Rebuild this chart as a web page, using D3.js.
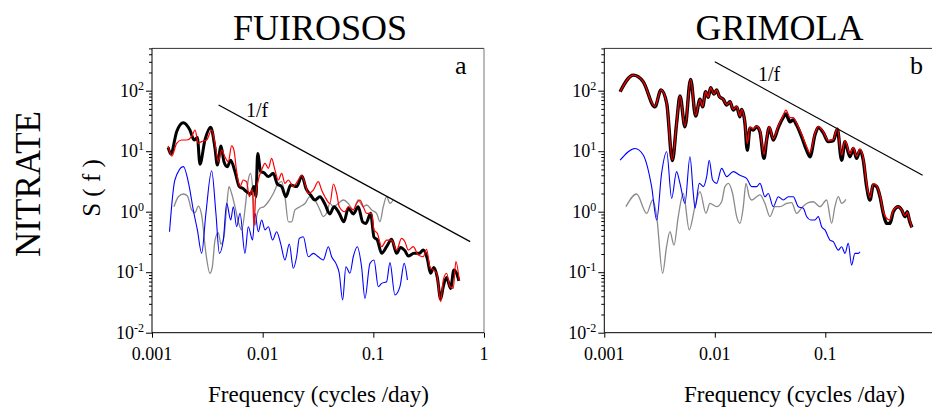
<!DOCTYPE html>
<html><head><meta charset="utf-8">
<script src="https://cdn.jsdelivr.net/npm/d3@7"></script>
<style>body{margin:0;background:#fff}svg{display:block}text{font-family:"Liberation Serif","Times New Roman",serif;fill:#000}</style>
</head><body><svg id="c" width="932" height="407"></svg>
<script>
const panelTitles = ["FUIROSOS", "GRIMOLA"];
const panelLetters = ["a", "b"];
const rowLabel = "NITRATE";
const yAxisLabel = "S ( f )";
const xAxisLabel = "Frequency (cycles /day)";
const slopeLabel = "1/f";
const xTickValues = [0.001, 0.01, 0.1, 1];
const xTickLabels = ["0.001", "0.01", "0.1", "1"];
const yTickValues = [0.01, 0.1, 1, 10, 100];
const yTickExponents = ["-2", "-1", "0", "1", "2"];
const xDomain = [0.001, 1];
const yDomain = [0.01, 500];

// [frequency, S(f)]
const fuirososBlack = [[0.0014,11.6],[0.00148,9.0],[0.00167,21],[0.00192,29.6],[0.0022,22.4],[0.0024,15.3],[0.00257,16.9],[0.00271,6.1],[0.00301,15.3],[0.00339,24.8],[0.00371,11.1],[0.00389,5.9],[0.0042,12.2],[0.00447,6.7],[0.00479,5.55],[0.00514,7.1],[0.00562,4.6],[0.00615,2.6],[0.00659,2.43],[0.00716,2.14],[0.00778,1.96],[0.00834,2.6],[0.0087,1.77],[0.00901,9.2],[0.00959,4.6],[0.01028,4.4],[0.01125,3.8],[0.01248,4.3],[0.01356,2.87],[0.01484,2.6],[0.01623,1.77],[0.01789,2.76],[0.02027,2.6],[0.02264,3.9],[0.02461,2.43],[0.02711,1.89],[0.02966,1.56],[0.0329,1.77],[0.0365,1.34],[0.0405,0.92],[0.0441,1.21],[0.0492,0.94],[0.0542,0.68],[0.0594,1.14],[0.0659,0.92],[0.0731,1.21],[0.08,0.68],[0.0858,0.64],[0.0945,0.94],[0.1014,0.38],[0.1086,0.34],[0.1189,0.205],[0.1318,0.264],[0.1462,0.35],[0.1623,0.205],[0.1762,0.257],[0.1928,0.227],[0.207,0.185],[0.2328,0.205],[0.26,0.205],[0.2825,0.232],[0.3069,0.169],[0.3289,0.096],[0.3524,0.12],[0.3784,0.082],[0.4055,0.036],[0.4285,0.058],[0.4592,0.082],[0.4989,0.054],[0.5346,0.109],[0.5649,0.096],[0.5929,0.072]];
const fuirososRed = [[0.0014,12.2],[0.00151,8.3],[0.00167,13.5],[0.00185,15.3],[0.00206,15.3],[0.00228,17.4],[0.00245,22.4],[0.00262,13.5],[0.00281,14.4],[0.00312,15.3],[0.00346,22.4],[0.00371,13.5],[0.00397,6.7],[0.00426,10.4],[0.00456,8.1],[0.00489,6.7],[0.00524,12.2],[0.0055,10.4],[0.00582,4.6],[0.00624,2.6],[0.00668,3.34],[0.00716,3.13],[0.00757,1.77],[0.00806,2.34],[0.00834,0.58],[0.00864,1.77],[0.00913,3.34],[0.00979,4.9],[0.0105,6.3],[0.01125,5.2],[0.01205,7.6],[0.01291,4.9],[0.01384,3.34],[0.01484,4.3],[0.0159,2.94],[0.01706,3.34],[0.01891,2.6],[0.02099,3.34],[0.02249,4.0],[0.02411,2.94],[0.02584,2.0],[0.02866,2.28],[0.03182,3.13],[0.0341,2.28],[0.0365,1.77],[0.0405,1.37],[0.0436,2.87],[0.0466,2.0],[0.0492,1.21],[0.0553,1.0],[0.0594,1.21],[0.0659,1.07],[0.0706,1.37],[0.0757,1.56],[0.0811,1.21],[0.087,0.94],[0.0964,0.94],[0.1014,0.5],[0.1086,0.44],[0.1189,0.264],[0.1318,0.34],[0.1462,0.34],[0.1623,0.232],[0.1799,0.362],[0.1928,0.319],[0.207,0.232],[0.2295,0.264],[0.2546,0.192],[0.2825,0.18],[0.3028,0.238],[0.3245,0.123],[0.3478,0.109],[0.3727,0.096],[0.4055,0.0325],[0.4285,0.074],[0.4592,0.096],[0.492,0.058],[0.5272,0.054],[0.5572,0.149],[0.5971,0.074]];
const fuirososGray = [[0.00158,1.21],[0.00173,1.77],[0.00192,1.96],[0.00209,1.82],[0.00228,1.07],[0.00245,0.96],[0.00262,1.24],[0.00281,0.88],[0.00307,0.205],[0.00334,0.096],[0.00351,0.123],[0.00371,0.34],[0.00397,0.45],[0.0042,0.29],[0.00447,0.386],[0.00473,1.21],[0.00496,2.6],[0.00524,2.0],[0.00562,1.21],[0.00603,0.68],[0.00646,0.5],[0.00702,1.37],[0.00741,3.34],[0.00778,4.3],[0.00823,1.77],[0.00852,0.6],[0.00894,0.94],[0.00945,1.14],[0.01028,1.21],[0.01125,1.46],[0.01248,2.0],[0.01384,2.94],[0.01484,3.13],[0.0159,1.77],[0.01706,0.68],[0.01827,0.68],[0.01958,1.07],[0.02173,1.21],[0.02411,1.37],[0.02675,1.77],[0.02966,1.56],[0.0329,1.07],[0.0353,0.83],[0.0378,0.94],[0.0405,1.37],[0.0435,1.21],[0.0482,1.37],[0.0535,1.56],[0.0594,1.37],[0.0659,1.07],[0.0731,1.56],[0.0811,1.21],[0.087,1.29],[0.0964,1.07],[0.107,0.94],[0.1148,0.68],[0.123,1.21],[0.1318,1.77],[0.1413,1.37],[0.1514,1.56]];
const fuirososBlue = [[0.00144,0.467],[0.00161,3.34],[0.00192,5.55],[0.00217,2.6],[0.00236,1.07],[0.00257,0.5],[0.00281,0.205],[0.00307,0.94],[0.00346,4.76],[0.00378,0.94],[0.00406,0.205],[0.00441,0.34],[0.00473,1.37],[0.00514,0.73],[0.00543,1.21],[0.00582,0.565],[0.00624,0.94],[0.00692,0.205],[0.00741,0.565],[0.00811,0.34],[0.00852,0.94],[0.00913,0.467],[0.00979,0.73],[0.0105,0.5],[0.01125,0.565],[0.0123,0.34],[0.01337,0.467],[0.01452,0.3],[0.0159,0.159],[0.01741,0.292],[0.01891,0.116],[0.02027,0.18],[0.02143,0.362],[0.02329,0.386],[0.02584,0.18],[0.02866,0.205],[0.03182,0.18],[0.0353,0.159],[0.0392,0.264],[0.042,0.18],[0.0459,0.14],[0.0492,0.096],[0.0528,0.0347],[0.0565,0.123],[0.0615,0.096],[0.0659,0.18],[0.0716,0.264],[0.0783,0.123],[0.084,0.0369],[0.0932,0.14],[0.1014,0.159],[0.1109,0.0576],[0.1189,0.0654],[0.1318,0.0697],[0.1413,0.144],[0.1567,0.042],[0.1739,0.0576],[0.1901,0.14],[0.2032,0.0743]];
const fuirososSlope = [[0.004, 58], [0.75, 0.32]];

const grimolaBlack = [[0.00139,96],[0.00183,181],[0.00225,141],[0.00287,54],[0.00326,103],[0.00367,62],[0.00413,7.0],[0.00451,28.8],[0.00484,82],[0.00537,25.4],[0.00604,154],[0.00671,38],[0.00734,72],[0.00776,54],[0.00826,96],[0.00873,78],[0.00916,112],[0.00983,88],[0.01039,103],[0.01099,80],[0.01194,72],[0.0128,58],[0.01371,66],[0.01469,48],[0.01577,54],[0.0169,37],[0.01749,49],[0.01875,28.8],[0.01968,10.4],[0.0208,23.9],[0.0223,22.4],[0.02392,25.4],[0.02563,21],[0.02786,7.6],[0.02944,15.3],[0.03112,24.8],[0.03381,15.3],[0.03758,24.8],[0.04112,34.9],[0.04406,41.1],[0.04786,30.7],[0.05129,32.7],[0.05502,27.1],[0.06106,17.4],[0.06776,10.4],[0.07261,8.1],[0.08054,18.5],[0.08643,24.8],[0.09594,20.2],[0.1064,14.4],[0.1181,14.9],[0.1284,23],[0.1406,7.1],[0.1507,14.4],[0.1671,8.1],[0.1791,11.1],[0.1921,7.6],[0.2059,10.4],[0.2208,7.1],[0.2367,2.6],[0.2536,1.56],[0.2717,2.76],[0.2917,2.6],[0.3126,1.77],[0.335,0.94],[0.3589,0.64],[0.3846,0.64],[0.4121,1.0],[0.4581,1.21],[0.4909,1.07],[0.526,0.83],[0.5521,1.0],[0.5754,0.73],[0.6081,0.55]];
const grimolaRed = [[0.00139,96],[0.00183,181],[0.00225,141],[0.00287,55],[0.00326,103],[0.00367,62],[0.00413,7.2],[0.00451,29],[0.00484,82],[0.00537,26],[0.00604,154],[0.00671,39],[0.00734,72],[0.00776,55],[0.00826,96],[0.00873,78],[0.00916,112],[0.00983,88],[0.01039,103],[0.01099,80],[0.01194,72],[0.0128,59],[0.01371,66],[0.01469,49],[0.01577,55],[0.0169,38],[0.01749,49],[0.01875,30],[0.01968,13.5],[0.0208,25],[0.0223,23.5],[0.02392,26],[0.02563,22],[0.02786,8.9],[0.02944,16],[0.03112,25.5],[0.03381,16],[0.03758,26],[0.04112,37],[0.04406,47.9],[0.04786,36],[0.05129,36],[0.05502,29],[0.06106,19],[0.06776,11.8],[0.07261,9.3],[0.08054,19.5],[0.08643,25.5],[0.09594,21],[0.1064,15],[0.1181,15.5],[0.1284,24],[0.1406,8.6],[0.1507,15],[0.1671,9],[0.1791,11.5],[0.1921,8.2],[0.2059,10.8],[0.2208,7.6],[0.2367,2.9],[0.2536,1.7],[0.2717,2.9],[0.2917,2.7],[0.3126,1.85],[0.335,1.0],[0.3589,0.78],[0.3846,0.73],[0.4121,1.05],[0.4581,1.21],[0.4909,1.07],[0.526,0.86],[0.5521,0.98],[0.5754,0.76],[0.6081,0.55]];
const grimolaGray = [[0.00157,1.21],[0.00196,1.96],[0.00242,0.94],[0.00274,1.56],[0.00298,0.83],[0.00337,0.096],[0.00366,0.264],[0.00393,0.467],[0.00427,0.28],[0.00467,0.83],[0.00519,2.0],[0.00587,0.5],[0.00662,1.21],[0.00734,2.14],[0.00832,0.94],[0.00904,1.37],[0.01039,1.21],[0.01153,1.46],[0.01236,2.6],[0.01325,2.94],[0.01449,2.0],[0.01577,0.83],[0.0169,0.64],[0.01811,1.21],[0.01914,2.94],[0.02051,1.77],[0.02155,1.56],[0.02392,1.77],[0.02563,1.89],[0.02845,1.37],[0.03155,0.83],[0.03506,1.21],[0.0389,1.21],[0.04467,1.37],[0.04955,1.41],[0.05502,0.94],[0.06237,1.21],[0.07015,1.41],[0.0778,1.46],[0.0895,1.21],[0.1028,1.56],[0.114,0.64],[0.1222,1.21],[0.1312,1.77],[0.1406,1.37],[0.1538,1.6]];
const grimolaBlue = [[0.00139,7.1],[0.0019,11.1],[0.00225,8.65],[0.00268,2.6],[0.00298,0.73],[0.0033,4.3],[0.00367,9.8],[0.00407,1.66],[0.00451,4.6],[0.00484,2.94],[0.00537,1.37],[0.00596,8.1],[0.00639,2.0],[0.00662,1.14],[0.00724,2.94],[0.00787,2.6],[0.00844,3.8],[0.00891,7.1],[0.00955,3.34],[0.01039,2.94],[0.01153,5.2],[0.0128,3.8],[0.01469,4.6],[0.0169,4.0],[0.01941,3.56],[0.02155,2.6],[0.02392,2.6],[0.02563,2.94],[0.02845,1.77],[0.03048,2.0],[0.03381,1.21],[0.03758,1.77],[0.04169,1.56],[0.04624,1.77],[0.05129,1.77],[0.05702,1.21],[0.06324,1.14],[0.06776,0.83],[0.0737,0.73],[0.08054,0.73],[0.08643,0.83],[0.09268,0.565],[0.09931,0.5],[0.1102,0.34],[0.1181,0.319],[0.1312,0.232],[0.1406,0.264],[0.1507,0.205],[0.1614,0.3],[0.173,0.131],[0.1854,0.205],[0.1991,0.205],[0.2059,0.218]];
const grimolaSlope = [[0.01, 300], [0.76, 4.0]];

const svg = d3.select("#c");
const W = 932, H = 407;

const panels = [
  {x0:152, x1:484, title:panelTitles[0], tcx:320, letter:panelLetters[0], lx:455, slopeTextX:246, slopeTextY:117, axisLabelX:318.5,
   series:[{d:fuirososGray,c:"#8a8a8a",w:1.3},{d:fuirososBlue,c:"#0000ff",w:1.1},{d:fuirososBlack,c:"#000",w:3},{d:fuirososRed,c:"#ff0000",w:1.2}], slope:fuirososSlope},
  {x0:604.3, x1:935.8, title:panelTitles[1], tcx:779.5, letter:panelLetters[1], lx:910, slopeTextX:758, slopeTextY:81, axisLabelX:794.5,
   series:[{d:grimolaGray,c:"#8a8a8a",w:1.3},{d:grimolaBlue,c:"#0000ff",w:1.1},{d:grimolaBlack,c:"#000",w:3.4},{d:grimolaRed,c:"#ff0000",w:1.3}], slope:grimolaSlope}
];
const yTop = 48.4, yBot = 332.7;

panels.forEach(p => {
  const x = d3.scaleLog().domain(xDomain).range([p.x0, p.x1]);
  const y = d3.scaleLog().domain(yDomain).range([yBot, yTop]);
  const g = svg.append("g");

  g.append("line").attr("x1",p.x0).attr("x2",p.x1).attr("y1",yTop).attr("y2",yTop).attr("stroke","#333").attr("stroke-width",1);
  g.append("line").attr("x1",p.x1).attr("x2",p.x1).attr("y1",yTop).attr("y2",yBot).attr("stroke","#777").attr("stroke-width",1);

  const minor = [];
  for (let e = -2; e <= 2; e++) for (let m = 2; m <= 9; m++) { const v = m * Math.pow(10, e); if (v <= yDomain[1]) minor.push(v); }
  g.append("g").attr("transform",`translate(${p.x0},0)`)
    .call(d3.axisLeft(y).tickValues(minor).tickSize(3).tickFormat(""))
    .call(a => a.select(".domain").remove());
  g.append("g").attr("transform",`translate(${p.x0},0)`)
    .call(d3.axisLeft(y).tickValues(yTickValues).tickSize(6).tickFormat(""))
    .call(a => a.select(".domain").attr("d",`M0,${yBot}V${yTop}`));
  g.selectAll(".tick line").attr("stroke","#000");

  yTickValues.forEach((v,i) => {
    const t = g.append("text").attr("x", p.x0 - 8).attr("y", y(v) + 6).attr("text-anchor","end").attr("font-size",18);
    t.append("tspan").text("10");
    t.append("tspan").attr("dy",-7).attr("font-size",12).text(yTickExponents[i]);
  });

  g.append("g").attr("transform",`translate(0,${yBot})`)
    .call(d3.axisBottom(x).tickValues(xTickValues).tickSize(5).tickFormat(""))
    .call(a => a.select(".domain").attr("d",`M${p.x0},0H${p.x1}`));
  g.selectAll(".tick line").attr("stroke","#000");
  xTickValues.forEach((v,i) => {
    if (x(v) > W - 4) return;
    g.append("text").attr("x", x(v)).attr("y", yBot + 27).attr("text-anchor","middle").attr("font-size",18).text(xTickLabels[i]);
  });

  const line = d3.line().x(d => x(d[0])).y(d => y(d[1])).curve(d3.curveMonotoneX);
  p.series.forEach(s => {
    g.append("path").datum(s.d).attr("d", line).attr("fill","none").attr("stroke", s.c).attr("stroke-width", s.w).attr("stroke-linejoin","round");
  });

  g.append("path").datum(p.slope).attr("d", d3.line().x(d => x(d[0])).y(d => y(d[1]))).attr("stroke","#000").attr("stroke-width",1.2).attr("fill","none");
  g.append("text").attr("x", p.slopeTextX).attr("y", p.slopeTextY).attr("font-size",20).text(slopeLabel);

  g.append("text").attr("x", p.lx).attr("y", 74).attr("font-size",26).text(p.letter);
  g.append("text").attr("x", p.tcx).attr("y", 40).attr("text-anchor","middle").attr("font-size",36).text(p.title);
  g.append("text").attr("x", p.axisLabelX).attr("y", 402).attr("text-anchor","middle").attr("font-size",23).text(xAxisLabel);
});

svg.append("text").attr("transform","translate(40,184) rotate(-90)").attr("text-anchor","middle").attr("font-size",35).text(rowLabel);
svg.append("text").attr("transform","translate(100,188) rotate(-90)").attr("text-anchor","middle").attr("font-size",25).text(yAxisLabel);
</script></body></html>
